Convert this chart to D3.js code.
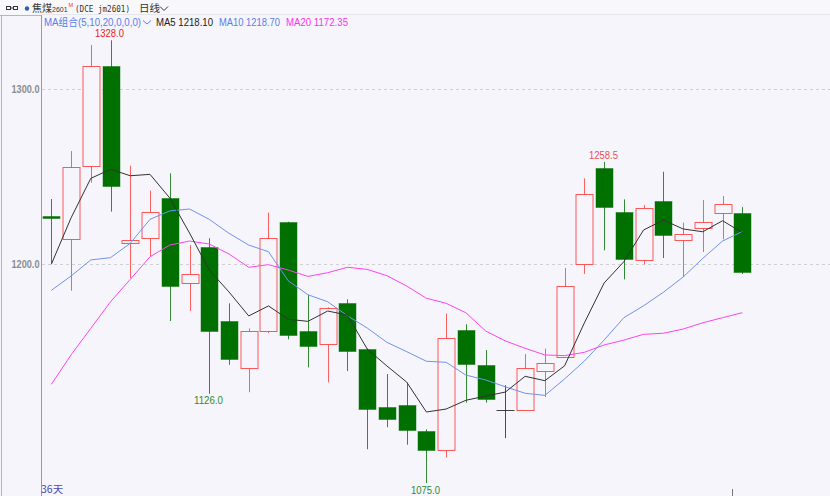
<!DOCTYPE html>
<html><head><meta charset="utf-8">
<script src="https://cdn.jsdelivr.net/npm/d3@7"></script>
<style>html,body{margin:0;padding:0;background:#f5f5fb;overflow:hidden}svg{display:block;font-family:"Liberation Sans",Arial,sans-serif}</style>
</head><body><svg id="c" width="830" height="496"></svg>
<script>
const tops=[1227.7,1255.8,1313.1,1313.3,1213.7,1229.7,1237.7,1194.3,1209.9,1167.8,1161.7,1215,1224.3,1161.9,1174.9,1177.7,1151.8,1118.5,1119.6,1104.7,1158.1,1162.6,1142.6,1116.6,1140.7,1143.8,1187.4,1240.2,1255,1229.9,1232,1236.3,1217.1,1224.2,1234.3,1229.5];
const bottoms=[1226.7,1214.5,1255.8,1244.9,1212,1214.9,1187.2,1188.9,1161.9,1146.3,1140.7,1161.7,1159.8,1153.1,1154.3,1150.5,1117.7,1111.6,1105.1,1093.9,1094.3,1142.9,1123,1116.6,1116.9,1139.4,1146.9,1200,1232.7,1203.2,1202.3,1217.1,1213.7,1220.6,1229.1,1195.8];
const highs=[1237.3,1264.7,1325.3,1328,1256.3,1242.1,1252,1211,1214.9,1177.7,1163.4,1229.5,1224.3,1182.5,1175.4,1180,1151.8,1137.3,1132.3,1105.7,1171.8,1165.7,1151,1130.9,1148.7,1151.8,1197.9,1249.1,1258.5,1237.1,1233.9,1252.9,1223.8,1236.7,1239,1232.7];
const lows=[1200.6,1184.9,1246.6,1230.1,1192,1204.7,1167.6,1173.3,1126,1142.5,1126.9,1160.7,1157.1,1141.1,1132.6,1139,1094.3,1106.9,1096.9,1075,1089.7,1120.9,1120.9,1100.7,1116.9,1124.2,1146.9,1194.5,1208,1191.4,1200,1203.6,1192.7,1207,1214.3,1194.5];
const kinds=["d","u","u","d","u","u","d","u","d","d","u","u","d","d","u","d","d","d","d","d","u","d","d","f","u","u","u","u","d","d","u","d","u","u","u","d"];
const ma5=[1200,1226.5,1249.1,1254.3,1250.6,1251.4,1237.9,1217.9,1196.7,1184.2,1170.5,1176.2,1168.6,1167.4,1173.3,1171,1151.6,1141.9,1132.7,1115.6,1117.3,1122.3,1124.7,1127,1136,1133.5,1142,1166.5,1189.3,1201.5,1219.6,1225.3,1220.2,1218.6,1224.9,1218.1];
const ma10=[1185.1,1193.3,1202.5,1203.8,1212,1225.7,1230.5,1231.6,1225.7,1217.7,1211,1207.2,1190.6,1182.6,1178.6,1170.6,1163.6,1155.4,1150.1,1144.6,1144,1136.7,1133.9,1130,1126.3,1125.1,1134.5,1144.7,1156.7,1169.5,1176.3,1184,1192.7,1203.4,1213.3,1218.7];
const ma20=[1131.4,1148.2,1163.4,1178.6,1191.4,1204.3,1211,1213.3,1211.6,1205.9,1198.3,1199.8,1196.7,1193.1,1195.2,1198.3,1197.1,1193.5,1187.6,1180.6,1177.7,1172.3,1161.9,1156.2,1152,1148.2,1147.8,1149.7,1153.9,1156.7,1160,1160.6,1163,1166.6,1169.5,1172.35];
const yTicks=[1300,1200];
const peakLabels=[[3,1328,"1328.0","#ee2222",-3,109.5],[8,1126,"1126.0","#2e8b2e",10,208.5],[19,1075,"1075.0","#2e8b2e",11,425.5],[28,1258.5,"1258.5","#e85050",-3,603.5]];
const legend=[["MA组合(5,10,20,0,0,0)","#5b80e8",44,97],["MA5 1218.10","#222222",156,57],["MA10 1218.70","#5b80e8",219,61],["MA20 1172.35","#ff33ee",286,62]];

const svg=d3.select("#c");
const x=d3.scaleLinear().domain([0,35]).range([51.3,742.3]);
const y=d3.scaleLinear().domain([1200,1300]).range([264.3,89.3]);
const colors={u:"#ff3b3b",d:"#007000",f:"#222222"};

// window chrome
svg.append("rect").attr("width",830).attr("height",14).attr("fill","#f8f8fa");
svg.append("line").attr("x1",0).attr("x2",42).attr("y1",15.5).attr("y2",15.5).attr("stroke","#b8b8bc");
svg.append("line").attr("x1",42).attr("x2",830).attr("y1",14.5).attr("y2",14.5).attr("stroke","#e6e6ec");
svg.append("line").attr("x1",41.5).attr("x2",41.5).attr("y1",15).attr("y2",496).attr("stroke","#9a9a9a");
svg.append("line").attr("x1",1.5).attr("x2",1.5).attr("y1",15).attr("y2",496).attr("stroke","#b4b4b8");

// grid and axis labels
yTicks.forEach(t=>{
  svg.append("line").attr("x1",42).attr("x2",830).attr("y1",Math.round(y(t))+.5).attr("y2",Math.round(y(t))+.5)
    .attr("stroke","#cfcfd4").attr("stroke-dasharray","3 3");
  svg.append("text").attr("x",39.5).attr("y",y(t)+3.5).attr("text-anchor","end").attr("font-size",10).attr("font-weight","bold").attr("fill","#8c8c8c").attr("textLength",28).attr("lengthAdjust","spacingAndGlyphs").text(t.toFixed(1));
});

// candles
const g=svg.append("g").selectAll("g").data(d3.range(tops.length)).join("g");
g.append("line").attr("x1",i=>Math.round(x(i))+.5).attr("x2",i=>Math.round(x(i))+.5)
  .attr("y1",i=>y(highs[i])).attr("y2",i=>y(lows[i])).attr("stroke",i=>colors[kinds[i]]).attr("stroke-opacity",.8).attr("stroke-width",1);
g.append("rect").attr("x",i=>Math.round(x(i))-8).attr("width",17)
  .attr("y",i=>Math.round(y(tops[i]))+.5).attr("height",i=>kinds[i]==="f"?0.01:Math.max(1,Math.round(y(bottoms[i])-y(tops[i]))))
  .attr("fill",i=>kinds[i]==="u"?"#f5f5fb":colors[kinds[i]])
  .attr("stroke",i=>colors[kinds[i]]).attr("stroke-opacity",i=>kinds[i]==="d"?.45:.85);

// moving averages
const line=d3.line().x((d,i)=>x(i)).y(d=>y(d));
[[ma20,"#ff44f0"],[ma10,"#6f93ee"],[ma5,"#333333"]].forEach(([s,c])=>{
  svg.append("path").attr("d",line(s)).attr("fill","none").attr("stroke",c).attr("stroke-width",1);
});

// extreme labels
peakLabels.forEach(([i,v,t,c,dy,cx])=>{
  svg.append("text").attr("x",cx).attr("y",y(v)+dy).attr("text-anchor","middle").attr("font-size",10).attr("fill",c).attr("textLength",29).attr("lengthAdjust","spacingAndGlyphs").text(t);
});

// header
const hdr=svg.append("g");
hdr.append("rect").attr("x",6.5).attr("y",6.5).attr("width",4).attr("height",3).attr("fill","none").attr("stroke","#333");
hdr.append("rect").attr("x",13.5).attr("y",6.5).attr("width",4).attr("height",3).attr("fill","none").attr("stroke","#333");
hdr.append("line").attr("x1",10).attr("x2",14).attr("y1",8).attr("y2",8).attr("stroke","#333");
hdr.append("circle").attr("cx",27).attr("cy",8.5).attr("r",2.2).attr("fill","#2f5fb0");
const nameText=hdr.append("text").attr("x",32).attr("y",12).attr("font-size",10).style("font-family","'Noto Sans CJK SC'").attr("fill","#333");
nameText.append("tspan").text("焦煤");
nameText.append("tspan").style("font-family","'Liberation Sans'").attr("font-size",7).text("2601");
hdr.append("text").attr("x",68.5).attr("y",6.5).attr("font-size",5.5).attr("fill","#ee3333").text("M");
hdr.append("text").attr("x",75).attr("y",12).attr("font-size",9).style("font-family","'DejaVu Sans Mono'").attr("fill","#333").attr("textLength",55).attr("lengthAdjust","spacingAndGlyphs").text("(DCE jm2601)");
hdr.append("text").attr("x",139).attr("y",12).attr("font-size",10.5).style("font-family","'Noto Sans CJK SC'").attr("fill","#333").text("日线");
hdr.append("path").attr("d","M160 6.5l4 4 4-4").attr("fill","none").attr("stroke","#333");

legend.forEach(([t,c,px,w])=>{
  svg.append("text").attr("x",px).attr("y",25.5).attr("font-size",10).style("font-family","'Liberation Sans','Noto Sans CJK SC'").attr("fill",c).attr("textLength",w).attr("lengthAdjust","spacingAndGlyphs").text(t);
});
svg.append("path").attr("d","M143 20.5l4 3.5 4-3.5").attr("fill","none").attr("stroke","#5b80e8");

// footer
svg.append("text").attr("x",41).attr("y",493).attr("font-size",10.5).style("font-family","'Noto Sans CJK SC'").attr("fill","#4a4ab0").text("36天");
svg.append("line").attr("x1",732.5).attr("x2",732.5).attr("y1",489).attr("y2",496).attr("stroke","#777");
</script></body></html>
